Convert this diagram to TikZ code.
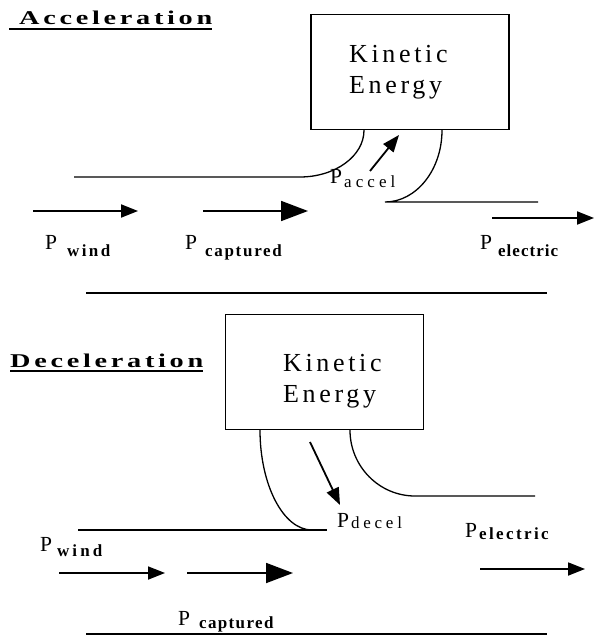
\documentclass[tikz,border=0pt]{standalone}
\usepackage{fontspec}
\setmainfont{Liberation Serif}
\usetikzlibrary{arrows.meta}

% P with a spaced subscript: gap, drop, letter space, series, text
\newcommand{\pname}[5]{{\fontsize{21.5}{21.5}\selectfont P}\hspace{#1pt}%
  \raisebox{-#2pt}{\fontsize{17}{17}\selectfont#4\addfontfeatures{LetterSpace=#3}#5}}

\tikzset{
  wall/.style={line width=1.3pt},
  store/.style={draw,line width=1.4pt,minimum width=198pt,minimum height=115pt},
  stored/.style={inner sep=0pt,anchor=north west,align=left,
    font=\fontsize{26}{31}\selectfont\addfontfeatures{LetterSpace=14}},
  heading/.style={inner sep=0pt,anchor=base west,
    font=\fontsize{19.5}{19.5}\selectfont\bfseries\addfontfeatures{FakeStretch=1.45,LetterSpace=19}},
  uline/.style={line width=2pt},
  plab/.style={inner sep=0pt,anchor=base west},
  pow/.style={line width=1.8pt,-{Triangle[length=17pt,width=13pt]}},
  bigpow/.style={line width=1.8pt,-{Triangle[length=27pt,width=20pt]}}
}

\begin{document}
\begin{tikzpicture}[x=1pt,y=-1pt]
  \useasboundingbox (0,0) rectangle (595,636);

  % ---- Acceleration ----
  \node[heading] (acc) at (19,25) {Acceleration};
  \draw[uline] (9,29) -- (212,29);
  \node[store] (ke1) at (410,72) {};
  \node[stored] (kin1) at (349,45) {Kinetic\\Energy};
  % stream boundaries
  \draw[wall] (74,177) -- (300,177) .. controls (335,177) and ([xshift=-46pt,yshift=-26pt]ke1.south) .. ([xshift=-46pt]ke1.south);
  \draw[wall] ([xshift=32pt]ke1.south) .. controls ([xshift=32pt,yshift=-40pt]ke1.south) and (416,202) .. (385,202) -- (538,202);
  \draw[wall] (86,293) -- (547,293);
  % power flows
  \coordinate (w1a) at (33,211);  \coordinate (w1b) at (138,211);
  \coordinate (c1a) at (203,211); \coordinate (c1b) at (308,211);
  \coordinate (a1a) at (370,171); \coordinate (a1b) at (399,135);
  \coordinate (e1a) at (492,218); \coordinate (e1b) at (594,218);
  \draw[pow] (w1a) -- (w1b);
  \draw[bigpow] (c1a) -- (c1b);
  \draw[pow] (a1a) -- (a1b);
  \draw[pow] (e1a) -- (e1b);
  \node[plab] (pwind1) at (45,249) {\pname{10}{7}{14}{\bfseries}{wind}};
  \node[plab] (pcapt1) at (185,249) {\pname{8}{7}{10}{\bfseries}{captured}};
  \node[plab] (paccel) at (330,184) {\pname{2}{4}{24}{}{accel}};
  \node[plab] (pelec1) at (480,249) {\pname{6}{7}{6}{\bfseries}{electric}};

  % ---- Deceleration ----
  \node[heading] (dec) at (10,367) {Deceleration};
  \draw[uline] (10,371) -- (203,371);
  \node[store] (ke2) at (324.5,372) {};
  \node[stored] (kin2) at (283,354) {Kinetic\\Energy};
  % stream boundaries
  \draw[wall] (78,530) -- (327,530);
  \draw[wall] ([xshift=-64.5pt]ke2.south) .. controls ([xshift=-64.5pt,yshift=-54pt]ke2.south) and (283,530) .. (312,530);
  \draw[wall] ([xshift=25.5pt]ke2.south) .. controls ([xshift=25.5pt,yshift=-36pt]ke2.south) and (379,496) .. (415,496) -- (535,496);
  \draw[wall] (86,634) -- (547,634);
  % power flows
  \coordinate (w2a) at (59,573);  \coordinate (w2b) at (165,573);
  \coordinate (c2a) at (187,573); \coordinate (c2b) at (293,573);
  \coordinate (d2a) at (310,442); \coordinate (d2b) at (340,505);
  \coordinate (e2a) at (480,569); \coordinate (e2b) at (585,569);
  \draw[pow] (w2a) -- (w2b);
  \draw[bigpow] (c2a) -- (c2b);
  \draw[pow] (d2a) -- (d2b);
  \draw[pow] (e2a) -- (e2b);
  \node[plab] (pwind2) at (40,551) {\pname{5}{5}{18}{\bfseries}{wind}};
  \node[plab] (pcapt2) at (178,625) {\pname{9}{3}{8}{\bfseries}{captured}};
  \node[plab] (pdecel) at (337,527) {\pname{2}{1}{22}{}{decel}};
  \node[plab] (pelec2) at (465,537) {\pname{2}{2}{14}{\bfseries}{electric}};
\end{tikzpicture}
\end{document}
